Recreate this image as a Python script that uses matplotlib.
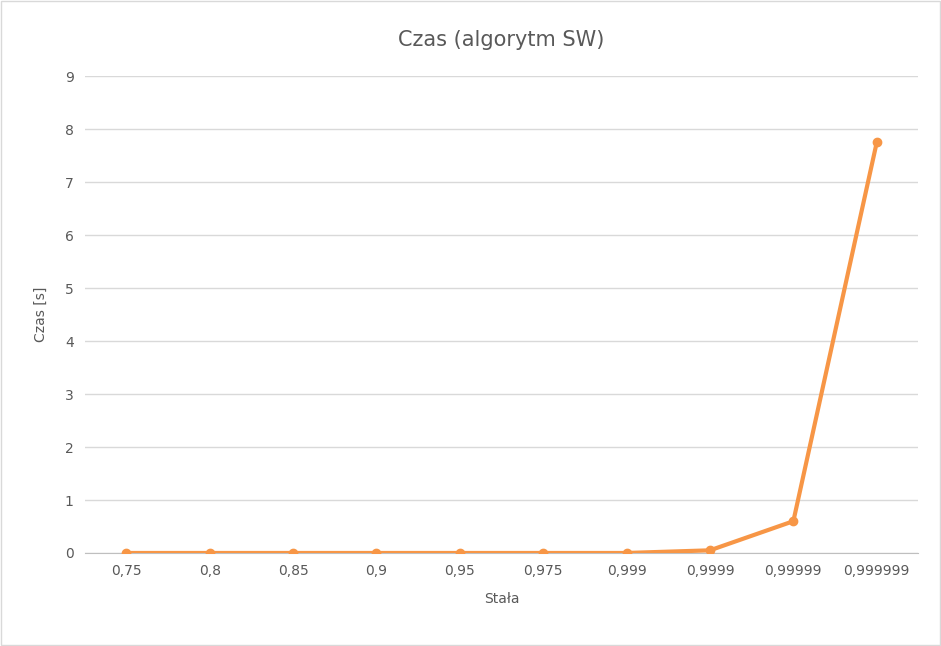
import matplotlib.pyplot as plt

# dane
stale = ["0,75", "0,8", "0,85", "0,9", "0,95", "0,975", "0,999", "0,9999", "0,99999", "0,999999"]
czasy = [0.0, 0.0, 0.0, 0.0, 0.0, 0.0, 0.0, 0.05, 0.6, 7.75]
yticks = [0, 1, 2, 3, 4, 5, 6, 7, 8, 9]

fig = plt.figure(figsize=(9.41, 6.46), dpi=100)
fig.patches.append(plt.Rectangle((0.001, 0.001), 0.998, 0.998, transform=fig.transFigure,
                                 fill=False, edgecolor="#d9d9d9", linewidth=1))
ax = fig.add_axes([0.090, 0.144, 0.886, 0.738])

x = list(range(len(stale)))
ax.plot(x, czasy, color="#F79646", linewidth=3, marker="o", markersize=6, zorder=3)

ax.set_xlim(-0.5, len(stale) - 0.5)
ax.set_ylim(0, 9)
ax.set_xticks(x)
ax.set_xticklabels(stale)
ax.set_yticks(yticks)
ax.grid(axis="y", color="#d9d9d9", linewidth=1)
ax.set_axisbelow(True)
for s in ["top", "right", "left"]:
    ax.spines[s].set_visible(False)
ax.spines["bottom"].set_color("#bfbfbf")
ax.tick_params(axis="both", length=0, labelsize=10, colors="#595959", pad=8)

ax.set_title("Czas (algorytm SW)", fontsize=15, color="#595959", pad=22)
ax.set_xlabel("Stała", fontsize=10, color="#595959", labelpad=10)
ax.set_ylabel("Czas [s]", fontsize=10, color="#595959", labelpad=12)

fig.savefig("out.png", dpi=100)
